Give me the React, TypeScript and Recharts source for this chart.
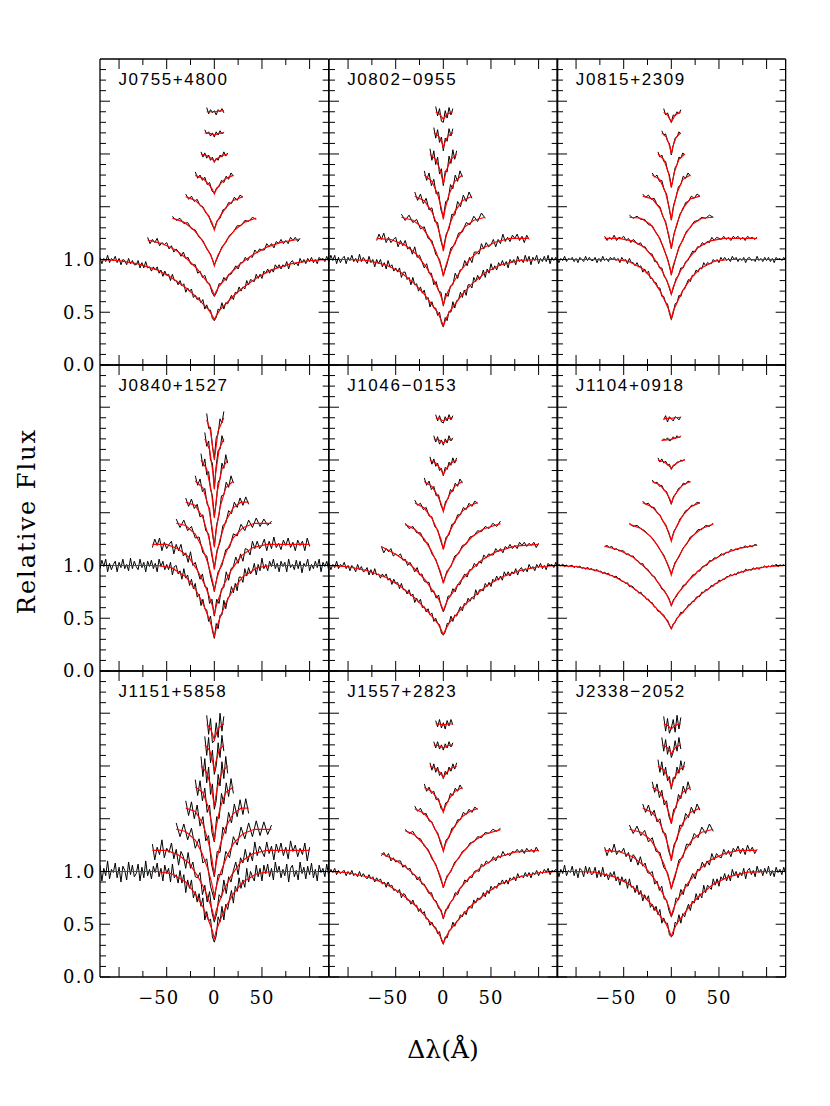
import React from "react";
import { LineChart, Line, XAxis, YAxis, ReferenceLine } from "recharts";

// Wavelength grids (Å from line centre). OX* = observed spectrum, FX* = model fit.
const OX1 = [-120,-118,-116,-114,-112,-110,-108,-106,-104,-102,-100,-98,-96,-94,-92,-90,-88,-86,-84,-82,-80,-78,-76,-74,-72,-70,-68,-66,-64,-62,-60,-58,-56,-54,-52,-50,-48,-46,-44,-42,-40,-38,-36,-34,-32,-30,-28,-26,-24,-22,-20,-18,-16,-14,-12,-10,-8,-6,-4,-2,0,2,4,6,8,10,12,14,16,18,20,22,24,26,28,30,32,34,36,38,40,42,44,46,48,50,52,54,56,58,60,62,64,66,68,70,72,74,76,78,80,82,84,86,88,90,92,94,96,98,100,102,104,106,108,110,112,114,116,118,120];
const OX2A = [-70,-67.5,-65,-62.5,-60,-57.5,-55,-52.5,-50,-47.5,-45,-42.5,-40,-37.5,-35,-32.5,-30,-27.5,-25,-22.5,-20,-17.5,-15,-12.5,-10,-7.5,-5,-2.5,0,2.5,5,7.5,10,12.5,15,17.5,20,22.5,25,27.5,30,32.5,35,37.5,40,42.5,45,47.5,50,52.5,55,57.5,60,62.5,65,67.5,70,72.5,75,77.5,80,82.5,85,87.5,90];
const OX2B = [-65,-62.5,-60,-57.5,-55,-52.5,-50,-47.5,-45,-42.5,-40,-37.5,-35,-32.5,-30,-27.5,-25,-22.5,-20,-17.5,-15,-12.5,-10,-7.5,-5,-2.5,0,2.5,5,7.5,10,12.5,15,17.5,20,22.5,25,27.5,30,32.5,35,37.5,40,42.5,45,47.5,50,52.5,55,57.5,60,62.5,65,67.5,70,72.5,75,77.5,80,82.5,85,87.5,90,92.5,95,97.5,100];
const OX3A = [-44,-40,-36,-32,-28,-24,-20,-16,-12,-8,-4,0,4,8,12,16,20,24,28,32,36,40,44];
const OX3B = [-40,-36,-32,-28,-24,-20,-16,-12,-8,-4,0,4,8,12,16,20,24,28,32,36,40,44,48,52,56,60];
const OX4A = [-30,-27,-24,-21,-18,-15,-12,-9,-6,-3,0,3,6,9,12,15,18,21,24,27,30];
const OX4B = [-30,-27,-24,-21,-18,-15,-12,-9,-6,-3,0,3,6,9,12,15,18,21,24,27,30,33,36];
const OX5 = [-20,-17.5,-15,-12.5,-10,-7.5,-5,-2.5,0,2.5,5,7.5,10,12.5,15,17.5,20];
const OX6 = [-14,-12,-10,-8,-6,-4,-2,0,2,4,6,8,10,12,14];
const OX7 = [-10,-8,-6,-4,-2,0,2,4,6,8,10];
const OX8 = [-8,-6,-4,-2,0,2,4,6,8,10];

const FX1 = [-120,-100,-80,-60,-45,-30,-20,-12,-6,-2,0,2,6,12,20,30,45,60,80,100,120];
const FX2A = [-70,-55,-40,-28,-18,-10,-5,-2,0,2,5,10,18,28,40,55,70,90];
const FX2B = [-65,-50,-38,-27,-18,-10,-5,-2,0,2,5,10,18,28,40,55,75,100];
const FX3A = [-44,-32,-22,-14,-8,-4,-1.5,0,1.5,4,8,14,22,32,44];
const FX3B = [-40,-30,-20,-13,-7,-3,-1,0,1,3,7,13,20,30,42,60];
const FX4A = [-30,-20,-12,-6,-2.5,0,2.5,6,12,20,30];
const FX4B = [-30,-20,-12,-6,-2.5,0,2.5,6,12,20,28,36];
const FX5 = [-20,-12,-6,-2,0,2,6,12,20];
const FX6 = [-14,-8,-3,0,3,8,14];
const FX7 = [-10,-5,-1.5,0,1.5,5,10];
const FX8 = [-8,-4,0,4,10];

const X_TICKS = [-100, -75, -50, -25, 0, 25, 50, 75, 100];
const X_LABELS = [-50, 0, 50];
const Y_TICKS = [0,0.1,0.2,0.3,0.4,0.5,0.6,0.7,0.8,0.9,1,1.1,1.2,1.3,1.4,1.5,1.6,1.7,1.8,1.9,2,2.1,2.2,2.3,2.4,2.5,2.6,2.7,2.8];
const Y_LABELS = [0, 0.5, 1];

// Relative flux, one row per Balmer line, each offset by +0.2
const J0755_OBS = [
  [1.02,.96,1.01,.98,1.04,.97,1.01,.99,1.03,.97,1.01,.95,1.00,.99,.95,1.01,.96,.99,.95,.95,.99,.92,.97,.92,.98,.92,.93,.89,.93,.90,.93,.87,.90,.84,.89,.85,.86,.80,.86,.80,.80,.76,.80,.75,.77,.69,.73,.70,.72,.64,.66,.62,.64,.59,.62,.53,.57,.52,.52,.44,
   .42,
   .45,.53,.52,.59,.53,.59,.58,.62,.66,.62,.69,.68,.74,.70,.74,.72,.80,.76,.81,.80,.79,.86,.82,.86,.82,.89,.87,.91,.87,.91,.88,.95,.92,.95,.91,.95,.93,.98,.91,.97,.99,.95,.97,.94,1.01,.97,1.00,.96,1.01,.98,1.02,.97,1.00,.96,1.02,1.00,1.01,.98,1.03,.98],
  [1.21,1.15,1.19,1.16,1.20,1.13,1.16,1.14,1.16,1.10,1.13,1.07,1.10,1.07,1.03,1.07,1.01,1.02,.96,.95,.95,.87,.89,.83,.85,.78,.77,.69,
   .65,
   .69,.77,.77,.83,.80,.86,.86,.90,.94,.91,.97,.97,1.02,.99,1.03,1.02,1.09,1.06,1.10,1.09,1.09,1.15,1.12,1.15,1.11,1.17,1.15,1.19,1.15,1.18,1.15,1.21,1.18,1.21,1.17,1.20],
  [1.41,1.37,1.39,1.34,1.35,1.29,1.28,1.21,1.18,1.10,1.05,.95,1.03,1.12,1.16,1.23,1.26,1.32,1.32,1.37,1.36,1.40,1.38],
  [1.62,1.57,1.60,1.55,1.57,1.51,1.50,1.44,1.42,1.34,1.29,1.37,1.39,1.47,1.48,1.54,1.53,1.59,1.56,1.61,1.59],
  [1.83,1.77,1.80,1.75,1.78,1.71,1.73,1.65,1.63,1.68,1.69,1.75,1.73,1.79,1.76,1.82,1.79],
  [2.02,1.97,2.01,1.96,1.99,1.94,1.97,1.92,1.96,1.94,1.99,1.97,2.02,1.98,2.01],
  [2.23,2.19,2.21,2.17,2.20,2.16,2.21,2.18,2.22,2.19,2.21],
  [2.44,2.38,2.42,2.39,2.41,2.37,2.42,2.40,2.43,2.39],
];
const J0755_FIT = [
  [1,.99,.958,.901,.829,.733,.654,.58,.524,.466,.43,.466,.524,.58,.654,.733,.829,.901,.958,.99,1],
  [1.185,1.151,1.087,1.0,.911,.817,.76,.706,.66,.699,.746,.80,.879,.964,1.043,1.117,1.162,1.194],
  [1.392,1.354,1.285,1.198,1.109,1.044,.986,.94,.986,1.044,1.109,1.198,1.285,1.354,1.392],
  [1.596,1.56,1.491,1.408,1.35,1.28,1.35,1.408,1.491,1.56,1.596],
  [1.797,1.769,1.715,1.662,1.62,1.662,1.715,1.769,1.797],
  [1.998,1.985,1.958,1.93,1.958,1.985,1.998],
  [2.2,2.195,2.186,2.18,2.186,2.195,2.2],
  [2.4,2.4,2.4,2.405,2.41],
];

const J0802_OBS = [
  [.98,1.04,.99,1.04,.96,1.02,.97,1.01,1.03,.96,1.02,.99,1.04,.98,1.01,.97,1.05,.98,1.02,.99,.96,1.03,.97,1.00,.93,1.00,.96,1.00,.93,.97,.91,.99,.93,.95,.89,.92,.88,.92,.83,.88,.88,.81,.83,.76,.83,.76,.77,.70,.74,.68,.71,.62,.64,.55,.60,.54,.54,.47,.50,.40,
   .36,
   .45,.42,.51,.50,.60,.54,.61,.62,.69,.64,.71,.66,.76,.76,.73,.83,.79,.85,.81,.84,.90,.83,.91,.87,.96,.90,.94,.90,.97,.94,.99,.94,.98,.92,1.00,.97,1.00,.95,1.03,.98,1.00,.97,1.04,.98,1.03,.95,1.02,.99,1.04,.96,1.01,.98,1.03,.98,1.04,.96,1.02,.99,1.02,.97],
  [1.18,1.24,1.19,1.25,1.16,1.21,1.16,1.19,1.21,1.12,1.18,1.13,1.18,1.10,1.12,1.05,1.12,1.02,1.04,.98,.92,.96,.87,.87,.76,.79,.70,.69,
   .56,
   .68,.65,.75,.76,.87,.82,.90,.91,.99,.94,1.02,.97,1.07,1.07,1.05,1.15,1.10,1.16,1.12,1.14,1.19,1.12,1.19,1.15,1.24,1.17,1.21,1.17,1.23,1.20,1.24,1.18,1.22,1.16,1.23,1.19],
  [1.43,1.37,1.42,1.35,1.38,1.29,1.31,1.20,1.18,1.05,1.00,.85,.96,1.11,1.14,1.25,1.26,1.35,1.33,1.41,1.36,1.44,1.39],
  [1.64,1.56,1.62,1.53,1.58,1.47,1.49,1.36,1.35,1.19,1.10,1.24,1.29,1.43,1.42,1.55,1.50,1.61,1.55,1.64,1.58],
  [1.84,1.75,1.82,1.70,1.76,1.62,1.64,1.47,1.40,1.55,1.56,1.71,1.67,1.80,1.74,1.84,1.78],
  [2.05,1.94,2.03,1.90,1.97,1.81,1.86,1.70,1.84,1.83,1.98,1.91,2.04,1.95,2.03],
  [2.25,2.15,2.23,2.11,2.16,2.03,2.15,2.12,2.24,2.17,2.24],
  [2.45,2.36,2.43,2.31,2.30,2.41,2.34,2.44,2.37,2.43],
];
const J0802_FIT = [
  [1,1,.992,.948,.882,.769,.672,.572,.499,.42,.37,.42,.499,.572,.672,.769,.882,.948,.992,1,1],
  [1.2,1.189,1.136,1.047,.929,.802,.712,.639,.57,.63,.699,.775,.891,1.005,1.101,1.166,1.2,1.2],
  [1.4,1.372,1.305,1.193,1.081,.98,.907,.84,.907,.98,1.081,1.193,1.305,1.372,1.4],
  [1.6,1.558,1.454,1.314,1.202,1.08,1.202,1.314,1.454,1.558,1.6],
  [1.8,1.741,1.619,1.485,1.38,1.485,1.619,1.741,1.8],
  [1.996,1.949,1.84,1.72,1.84,1.949,1.996],
  [2.2,2.171,2.108,2.06,2.108,2.171,2.2],
  [2.397,2.378,2.33,2.378,2.4],
];

const J0815_OBS = [
  [1.02,.97,1.01,.99,1.03,.98,1.01,1.00,1.02,.98,1.01,.97,1.02,1.00,.98,1.03,.99,1.02,.99,.99,1.02,.97,1.01,.98,1.03,.99,1.01,.98,1.02,1.00,1.02,.99,1.01,.97,1.02,.99,1.00,.96,1.01,.97,.97,.94,.97,.93,.94,.88,.91,.87,.89,.82,.82,.78,.78,.73,.73,.65,.65,.59,.58,.49,
   .43,
   .49,.58,.59,.66,.65,.71,.72,.77,.81,.79,.85,.85,.90,.88,.92,.91,.97,.94,.97,.96,.96,1.00,.98,1.00,.97,1.02,.99,1.02,.99,1.01,.98,1.03,1.00,1.02,.98,1.01,.99,1.02,.97,1.01,1.02,.99,1.00,.98,1.03,.99,1.01,.98,1.02,.99,1.02,.98,1.01,.97,1.02,1.00,1.01,.99,1.02,.99],
  [1.22,1.18,1.21,1.19,1.23,1.18,1.21,1.20,1.22,1.18,1.20,1.16,1.19,1.17,1.14,1.16,1.12,1.12,1.08,1.06,1.05,.98,.98,.92,.92,.84,.81,.74,
   .67,
   .74,.82,.85,.92,.92,.98,.99,1.04,1.08,1.07,1.12,1.12,1.16,1.14,1.17,1.16,1.21,1.18,1.21,1.20,1.19,1.22,1.19,1.21,1.18,1.22,1.20,1.22,1.19,1.21,1.18,1.22,1.20,1.21,1.19,1.21],
  [1.42,1.39,1.41,1.38,1.38,1.33,1.32,1.25,1.20,1.10,1.01,.86,.99,1.12,1.18,1.27,1.30,1.36,1.37,1.40,1.39,1.42,1.40],
  [1.62,1.59,1.61,1.57,1.58,1.52,1.50,1.41,1.36,1.23,1.11,1.25,1.33,1.43,1.47,1.54,1.55,1.60,1.58,1.62,1.60],
  [1.82,1.78,1.80,1.74,1.75,1.66,1.62,1.49,1.38,1.52,1.59,1.69,1.71,1.79,1.77,1.82,1.79],
  [2.02,1.97,1.99,1.93,1.93,1.84,1.80,1.69,1.77,1.87,1.90,1.97,1.96,2.01,1.99],
  [2.22,2.18,2.19,2.12,2.10,1.99,2.08,2.15,2.16,2.21,2.19],
  [2.43,2.37,2.39,2.34,2.30,2.37,2.36,2.40,2.38,2.42],
];
const J0815_FIT = [
  [1,1,1,1,.983,.913,.816,.705,.593,.509,.44,.509,.593,.705,.816,.913,.983,1,1,1,1],
  [1.2,1.2,1.174,1.113,1.009,.898,.803,.739,.67,.739,.803,.898,1.009,1.113,1.174,1.2,1.2,1.2],
  [1.4,1.391,1.334,1.23,1.109,.999,.927,.85,.927,.999,1.109,1.23,1.334,1.391,1.4],
  [1.6,1.575,1.485,1.345,1.225,1.1,1.225,1.345,1.485,1.575,1.6],
  [1.8,1.757,1.632,1.484,1.37,1.484,1.632,1.757,1.8],
  [2.0,1.95,1.824,1.68,1.824,1.95,2.0],
  [2.2,2.158,2.068,2.0,2.068,2.158,2.2],
  [2.395,2.369,2.3,2.369,2.4],
];

const J0840_OBS = [
  [.97,1.05,.99,1.06,.94,1.02,.96,1.01,1.04,.94,1.03,.98,1.06,.97,1.01,.95,1.07,.97,1.04,.99,.96,1.06,.98,1.03,.94,1.04,.99,1.05,.97,1.02,.94,1.06,.99,1.04,.96,1.01,.96,1.03,.91,.99,1.00,.92,.95,.87,.97,.88,.91,.81,.87,.78,.83,.70,.73,.62,.68,.59,.58,.47,.52,.38,
   .31,
   .45,.40,.53,.53,.67,.59,.69,.71,.80,.74,.83,.76,.89,.89,.84,.97,.90,.98,.92,.95,1.02,.91,1.01,.95,1.07,.97,1.01,.95,1.04,.99,1.06,.97,1.02,.94,1.04,.99,1.03,.94,1.06,.98,1.01,.96,1.05,.97,1.04,.93,1.02,.99,1.06,.95,1.01,.97,1.04,.98,1.06,.94,1.03,.99,1.04,.96],
  [1.17,1.25,1.19,1.26,1.14,1.22,1.16,1.20,1.23,1.11,1.20,1.14,1.20,1.09,1.12,1.03,1.13,1.00,1.03,.95,.87,.92,.80,.79,.64,.68,
   .52,
   .68,.64,.78,.79,.94,.86,.97,.99,1.08,1.02,1.11,1.04,1.16,1.15,1.10,1.23,1.16,1.23,1.16,1.19,1.25,1.14,1.23,1.16,1.27,1.17,1.21,1.15,1.24,1.19,1.26,1.17,1.22,1.14,1.24,1.19,1.23,1.14,1.26,1.18],
  [1.44,1.36,1.43,1.33,1.37,1.26,1.27,1.12,1.09,.90,.76,.94,1.00,1.15,1.17,1.30,1.28,1.39,1.33,1.43,1.36,1.45,1.37,1.44,1.38,1.42],
  [1.64,1.56,1.63,1.54,1.58,1.46,1.48,1.33,1.30,1.11,.98,1.15,1.22,1.38,1.40,1.52,1.49,1.60,1.55,1.64,1.57,1.65,1.58],
  [1.85,1.76,1.82,1.70,1.73,1.58,1.54,1.33,1.19,1.39,1.48,1.66,1.67,1.79,1.74,1.85,1.78],
  [2.06,1.94,2.01,1.86,1.89,1.72,1.66,1.47,1.60,1.79,1.82,1.97,1.92,2.05,1.97],
  [2.26,2.13,2.18,2.00,1.97,1.74,1.95,2.09,2.10,2.23,2.17],
  [2.44,2.30,2.31,2.13,2.02,2.21,2.25,2.39,2.35,2.46],
];
const J0840_FIT = [
  [1,1,1,1,.979,.894,.777,.642,.506,.404,.32,.404,.506,.642,.777,.894,.979,1,1,1,1],
  [1.2,1.2,1.158,1.081,.959,.818,.698,.617,.53,.617,.698,.818,.959,1.089,1.167,1.2,1.2,1.2],
  [1.4,1.379,1.298,1.176,1.03,.90,.815,.75,.809,.887,1.0,1.14,1.264,1.358,1.4,1.4],
  [1.6,1.568,1.453,1.274,1.12,.96,1.11,1.248,1.421,1.549,1.6,1.6],
  [1.8,1.737,1.554,1.337,1.17,1.337,1.554,1.737,1.8],
  [2.0,1.914,1.698,1.45,1.698,1.914,2.0],
  [2.2,2.099,1.883,1.72,1.883,2.099,2.2],
  [2.38,2.276,2.0,2.276,2.4],
];

const J1046_OBS = [
  [1.02,.96,1.01,.98,1.04,.97,1.01,.99,1.03,.97,1.00,.95,1.00,.98,.94,1.01,.96,.99,.94,.95,.98,.91,.96,.91,.97,.91,.92,.88,.92,.89,.92,.86,.88,.82,.87,.83,.84,.78,.83,.77,.77,.73,.77,.71,.73,.65,.69,.65,.68,.60,.61,.56,.59,.53,.55,.47,.50,.45,.44,.36,
   .34,
   .37,.45,.45,.52,.47,.53,.52,.57,.61,.57,.64,.63,.69,.66,.70,.68,.77,.72,.77,.77,.76,.83,.80,.84,.80,.87,.85,.90,.86,.90,.86,.94,.90,.94,.90,.94,.92,.97,.91,.96,.98,.94,.97,.94,1.01,.97,.99,.95,1.01,.98,1.02,.97,1.00,.96,1.02,1.00,1.01,.98,1.03,.98],
  [1.18,1.12,1.16,1.13,1.16,1.09,1.11,1.09,1.11,1.05,1.06,1.00,1.03,.99,.94,.98,.91,.92,.85,.84,.84,.75,.76,.69,.72,.62,
   .56,
   .62,.71,.71,.78,.75,.82,.82,.88,.92,.89,.96,.96,1.02,.99,1.04,1.02,1.10,1.07,1.11,1.10,1.10,1.16,1.13,1.16,1.12,1.18,1.16,1.20,1.16,1.19,1.16,1.22,1.19,1.22,1.18,1.21,1.19,1.22,1.17,1.21],
  [1.40,1.35,1.37,1.31,1.31,1.23,1.21,1.11,1.06,.95,.84,.95,.99,1.09,1.11,1.19,1.20,1.27,1.28,1.33,1.32,1.37,1.35,1.40,1.37,1.42],
  [1.62,1.57,1.59,1.53,1.55,1.47,1.46,1.37,1.34,1.24,1.16,1.27,1.29,1.39,1.40,1.48,1.48,1.55,1.53,1.59,1.56,1.61,1.59],
  [1.83,1.76,1.80,1.72,1.75,1.66,1.67,1.57,1.52,1.61,1.63,1.72,1.70,1.78,1.75,1.82,1.78],
  [2.03,1.96,2.01,1.94,1.97,1.90,1.92,1.85,1.93,1.91,1.98,1.95,2.02,1.97,2.02],
  [2.23,2.17,2.22,2.15,2.19,2.14,2.20,2.16,2.23,2.18,2.21],
  [2.43,2.37,2.42,2.36,2.35,2.41,2.37,2.43,2.38,2.42],
];
const J1046_FIT = [
  [1,.988,.952,.886,.804,.693,.602,.518,.453,.386,.345,.386,.453,.518,.602,.693,.804,.886,.952,.988,1],
  [1.18,1.107,1.034,.943,.852,.745,.682,.62,.57,.62,.682,.745,.852,.951,1.049,1.129,1.184,1.2],
  [1.387,1.343,1.249,1.146,1.03,.941,.873,.83,.861,.916,.984,1.083,1.172,1.272,1.346,1.397],
  [1.595,1.544,1.447,1.33,1.249,1.15,1.236,1.309,1.416,1.515,1.569,1.596],
  [1.795,1.75,1.664,1.578,1.51,1.578,1.664,1.75,1.795],
  [1.996,1.971,1.916,1.86,1.916,1.971,1.996],
  [2.199,2.19,2.172,2.16,2.172,2.19,2.199],
  [2.398,2.391,2.37,2.391,2.4],
];

const J1104_OBS = [
  [.993,1.011,.997,1.014,.988,1.003,.989,.998,1.002,.979,.995,.982,.995,.973,.98,.964,.985,.961,.971,.959,.947,.963,.943,.947,.923,.938,.92,.927,.902,.908,.884,.901,.877,.876,.849,.85,.83,.836,.799,.806,.797,.768,.764,.736,.748,.716,.71,.679,.681,.65,.648,.608,.601,.565,.567,.542,.531,.492,.483,.432,
   .398,
   .447,.459,.504,.52,.558,.548,.581,.597,.629,.627,.66,.658,.697,.706,.707,.748,.744,.771,.768,.785,.812,.801,.831,.827,.862,.852,.871,.868,.895,.895,.915,.902,.921,.91,.938,.933,.947,.935,.965,.952,.962,.954,.978,.964,.982,.962,.985,.98,.998,.979,.995,.986,1.005,.994,1.013,.988,1.006,.999,1.008,.991],
  [1.177,1.19,1.17,1.182,1.15,1.16,1.138,1.14,1.137,1.104,1.111,1.088,1.09,1.053,1.045,1.013,1.018,.975,.967,.934,.901,.893,.848,.826,.775,.766,.724,.689,
   .62,
   .681,.70,.747,.765,.813,.815,.855,.877,.911,.911,.947,.947,.988,.999,1.003,1.046,1.044,1.072,1.07,1.087,1.112,1.098,1.127,1.121,1.153,1.14,1.156,1.149,1.172,1.168,1.186,1.172,1.189,1.175,1.20,1.191],
  [1.40,1.37,1.38,1.35,1.33,1.29,1.26,1.21,1.15,1.10,1.01,.92,1.03,1.08,1.16,1.20,1.27,1.29,1.34,1.34,1.38,1.37,1.40],
  [1.61,1.58,1.59,1.55,1.55,1.50,1.48,1.42,1.39,1.31,1.24,1.33,1.37,1.44,1.47,1.52,1.53,1.57,1.57,1.60,1.59],
  [1.81,1.78,1.79,1.75,1.76,1.71,1.70,1.64,1.58,1.66,1.68,1.73,1.74,1.78,1.77,1.80,1.79],
  [2.02,1.98,2.01,1.97,1.99,1.95,1.96,1.91,1.95,1.95,1.98,1.98,2.00,1.99,2.01],
  [2.18,2.20,2.19,2.21,2.18,2.19,2.22,2.20,2.23,2.21,2.23],
  [2.38,2.42,2.36,2.41,2.39,2.37,2.41,2.40,2.38,2.41],
];
const J1104_FIT = [
  [1,.989,.956,.896,.82,.719,.636,.558,.499,.438,.40,.438,.499,.558,.636,.719,.82,.896,.956,.989,1],
  [1.184,1.147,1.078,.985,.89,.788,.727,.669,.62,.662,.713,.771,.855,.947,1.032,1.111,1.159,1.194],
  [1.392,1.351,1.278,1.184,1.09,1.02,.959,.91,.959,1.02,1.09,1.184,1.278,1.351,1.392],
  [1.596,1.554,1.474,1.378,1.311,1.23,1.311,1.378,1.474,1.554,1.596],
  [1.796,1.764,1.701,1.639,1.59,1.639,1.701,1.764,1.796],
  [1.998,1.983,1.952,1.92,1.952,1.983,1.998],
  [2.185,2.19,2.195,2.195,2.2,2.21,2.22],
  [2.39,2.395,2.395,2.4,2.405],
];

const J1151_OBS = [
  [1.06,.91,1.03,.96,1.10,.93,1.02,.99,1.08,.94,1.04,.90,1.05,1.01,.92,1.09,.97,1.06,.95,.98,1.07,.91,1.04,.94,1.10,.96,1.02,.93,1.05,.99,1.08,.95,1.03,.91,1.06,.98,1.03,.90,1.07,.94,.97,.89,1.01,.89,.97,.80,.92,.84,.92,.75,.81,.71,.79,.67,.75,.54,.62,.53,.55,.38,
   .33,
   .39,.57,.52,.67,.54,.69,.64,.74,.82,.70,.86,.81,.94,.84,.92,.85,1.03,.90,1.00,.95,.91,1.06,.95,1.03,.91,1.06,.98,1.07,.95,1.03,.92,1.09,.99,1.05,.94,1.02,.96,1.07,.90,1.03,1.06,.95,1.01,.92,1.09,.98,1.04,.93,1.05,.97,1.08,.94,1.02,.91,1.06,.99,1.03,.95,1.07,.96],
  [1.26,1.11,1.23,1.16,1.30,1.13,1.22,1.18,1.27,1.12,1.21,1.06,1.19,1.14,1.03,1.18,1.03,1.09,.95,.94,.99,.78,.87,.71,.81,.61,
   .52,
   .60,.78,.75,.92,.79,.95,.90,1.01,1.09,.97,1.13,1.08,1.21,1.09,1.18,1.10,1.28,1.15,1.24,1.19,1.14,1.28,1.17,1.24,1.11,1.26,1.18,1.27,1.15,1.23,1.12,1.29,1.19,1.25,1.14,1.22,1.16,1.27,1.10,1.23],
  [1.46,1.33,1.45,1.30,1.41,1.22,1.31,1.08,1.12,.86,.73,.97,.97,1.19,1.13,1.33,1.25,1.42,1.31,1.46,1.33,1.48,1.34,1.47,1.35,1.44],
  [1.67,1.53,1.66,1.50,1.63,1.43,1.52,1.29,1.34,1.07,.95,1.19,1.18,1.42,1.36,1.56,1.46,1.64,1.52,1.68,1.54,1.69,1.55],
  [1.87,1.72,1.86,1.67,1.79,1.56,1.63,1.37,1.28,1.52,1.50,1.74,1.64,1.84,1.71,1.88,1.74],
  [2.09,1.90,2.07,1.84,1.99,1.73,1.83,1.59,1.67,1.92,1.81,2.04,1.88,2.09,1.93],
  [2.28,2.10,2.27,2.03,2.15,1.92,2.00,2.22,2.08,2.29,2.14],
  [2.48,2.30,2.45,2.22,2.24,2.41,2.27,2.50,2.33,2.47],
];
const J1151_FIT = [
  [1,1,1,1,.98,.90,.79,.663,.535,.439,.36,.439,.535,.663,.79,.90,.98,1,1,1,1],
  [1.2,1.2,1.159,1.083,.964,.827,.709,.63,.545,.63,.709,.827,.964,1.092,1.167,1.2,1.2,1.2],
  [1.4,1.379,1.298,1.176,1.03,.90,.815,.75,.809,.887,1.0,1.14,1.264,1.358,1.4,1.4],
  [1.6,1.568,1.453,1.274,1.12,.96,1.11,1.248,1.421,1.549,1.6,1.6],
  [1.8,1.749,1.601,1.425,1.29,1.425,1.601,1.749,1.8],
  [2.0,1.94,1.791,1.62,1.791,1.94,2.0],
  [2.2,2.148,2.035,1.95,2.035,2.148,2.2],
  [2.393,2.354,2.25,2.354,2.4],
];

const J1557_OBS = [
  [.98,1.02,.99,1.03,.97,1.01,.98,1.00,1.01,.96,1.00,.97,1.01,.96,.98,.95,1.00,.95,.98,.95,.93,.97,.93,.95,.90,.94,.91,.93,.88,.90,.85,.90,.86,.87,.82,.83,.80,.83,.75,.79,.78,.73,.73,.69,.73,.68,.68,.62,.65,.60,.62,.55,.55,.49,.52,.48,.47,.41,.43,.35,
   .31,
   .38,.37,.44,.45,.52,.48,.53,.54,.59,.57,.62,.59,.66,.67,.65,.73,.70,.75,.73,.75,.80,.76,.82,.79,.86,.83,.86,.84,.89,.88,.92,.88,.92,.88,.94,.92,.95,.91,.98,.94,.96,.94,.99,.95,.99,.94,.99,.97,1.01,.96,1.00,.98,1.02,.99,1.03,.97,1.01,1.00,1.02,.98],
  [1.15,1.18,1.14,1.17,1.10,1.13,1.09,1.10,1.10,1.04,1.06,1.02,1.03,.97,.97,.92,.95,.88,.88,.83,.79,.80,.73,.72,.65,.64,
   .55,
   .64,.65,.71,.73,.80,.78,.84,.86,.92,.90,.95,.94,1.00,1.01,1.00,1.07,1.05,1.10,1.08,1.10,1.14,1.10,1.15,1.13,1.19,1.15,1.17,1.15,1.19,1.18,1.21,1.18,1.21,1.17,1.22,1.19,1.21,1.18,1.23,1.19],
  [1.40,1.36,1.38,1.32,1.31,1.24,1.21,1.12,1.07,.96,.85,.96,1.00,1.09,1.12,1.19,1.21,1.27,1.28,1.33,1.32,1.37,1.36,1.40,1.38,1.41],
  [1.62,1.57,1.60,1.54,1.55,1.48,1.47,1.40,1.37,1.27,1.20,1.30,1.32,1.41,1.42,1.49,1.49,1.56,1.54,1.59,1.56,1.61,1.59],
  [1.83,1.76,1.80,1.74,1.76,1.68,1.69,1.60,1.57,1.65,1.66,1.74,1.72,1.79,1.76,1.82,1.78],
  [2.03,1.96,2.02,1.94,1.99,1.91,1.94,1.88,1.95,1.92,1.99,1.95,2.02,1.97,2.03],
  [2.23,2.17,2.23,2.16,2.20,2.15,2.21,2.17,2.23,2.18,2.22],
  [2.43,2.37,2.44,2.36,2.41,2.35,2.43,2.38,2.44,2.39],
];
const J1557_FIT = [
  [1,.988,.95,.882,.796,.682,.587,.50,.432,.363,.32,.363,.432,.50,.587,.682,.796,.882,.95,.988,1],
  [1.17,1.106,1.032,.939,.846,.737,.673,.611,.56,.611,.673,.737,.846,.947,1.046,1.128,1.184,1.2],
  [1.387,1.345,1.253,1.153,1.039,.953,.887,.845,.876,.928,.995,1.091,1.178,1.275,1.348,1.397],
  [1.595,1.549,1.461,1.354,1.28,1.19,1.268,1.335,1.432,1.522,1.571,1.596],
  [1.796,1.758,1.687,1.616,1.56,1.616,1.687,1.758,1.796],
  [1.997,1.977,1.934,1.89,1.934,1.977,1.997],
  [2.2,2.192,2.179,2.17,2.179,2.192,2.2],
  [2.4,2.397,2.39,2.397,2.4],
];

const J2338_OBS = [
  [1.04,.95,1.02,.98,1.06,.96,1.01,.99,1.05,.96,1.02,.94,1.03,1.01,.95,1.05,.98,1.04,.97,.98,1.04,.94,1.01,.95,1.04,.95,.98,.92,.99,.95,1.00,.91,.95,.87,.95,.90,.93,.84,.93,.85,.86,.80,.87,.78,.82,.72,.78,.73,.77,.66,.69,.63,.67,.59,.64,.51,.56,.51,.51,.40,
   .38,
   .40,.52,.50,.59,.51,.60,.57,.64,.69,.63,.72,.70,.79,.73,.79,.75,.87,.80,.87,.85,.83,.93,.87,.93,.86,.95,.92,.98,.91,.97,.91,1.02,.96,1.00,.94,.99,.96,1.03,.93,1.01,1.03,.97,1.01,.95,1.05,.99,1.02,.96,1.03,.98,1.05,.96,1.01,.95,1.04,.99,1.02,.97,1.04,.98],
  [1.23,1.15,1.22,1.18,1.26,1.16,1.20,1.18,1.22,1.14,1.18,1.09,1.16,1.13,1.06,1.14,1.05,1.08,.99,.98,1.00,.88,.91,.82,.86,.74,.73,.63,
   .57,
   .63,.75,.73,.83,.78,.88,.86,.93,.98,.93,1.02,1.01,1.09,1.04,1.10,1.06,1.17,1.11,1.17,1.14,1.13,1.21,1.16,1.20,1.14,1.22,1.19,1.24,1.17,1.22,1.16,1.25,1.19,1.23,1.17,1.21],
  [1.44,1.36,1.43,1.34,1.39,1.28,1.32,1.19,1.18,1.04,.99,.84,.95,1.11,1.13,1.26,1.25,1.36,1.32,1.42,1.36,1.45,1.38],
  [1.64,1.56,1.63,1.53,1.58,1.47,1.50,1.37,1.36,1.20,1.12,1.26,1.30,1.44,1.43,1.55,1.51,1.61,1.55,1.64,1.58],
  [1.85,1.75,1.83,1.70,1.77,1.63,1.67,1.52,1.46,1.59,1.60,1.73,1.69,1.81,1.74,1.85,1.77],
  [2.06,1.94,2.04,1.91,1.99,1.86,1.90,1.78,1.89,1.88,1.99,1.93,2.05,1.96,2.04],
  [2.27,2.14,2.25,2.11,2.19,2.08,2.13,2.24,2.14,2.27,2.16],
  [2.47,2.33,2.45,2.31,2.36,2.44,2.32,2.48,2.35,2.46],
];
const J2338_FIT = [
  [1,1,.993,.949,.885,.775,.68,.582,.511,.434,.385,.434,.511,.582,.68,.775,.885,.949,.993,1,1],
  [1.2,1.189,1.137,1.049,.933,.808,.72,.648,.58,.639,.707,.782,.896,1.008,1.103,1.167,1.2,1.2],
  [1.4,1.372,1.303,1.189,1.075,.973,.898,.83,.898,.973,1.075,1.189,1.303,1.372,1.4],
  [1.6,1.56,1.46,1.325,1.218,1.1,1.218,1.325,1.46,1.56,1.6],
  [1.8,1.751,1.65,1.538,1.45,1.538,1.65,1.751,1.8],
  [1.997,1.963,1.886,1.8,1.886,1.963,1.997],
  [2.2,2.181,2.141,2.11,2.141,2.181,2.2],
  [2.398,2.385,2.35,2.385,2.4],
];

const GRIDS: Record<string, { obs: number[][]; fit: number[][] }> = {
  A: { obs: [OX1, OX2A, OX3A, OX4A, OX5, OX6, OX7, OX8], fit: [FX1, FX2A, FX3A, FX4A, FX5, FX6, FX7, FX8] },
  B: { obs: [OX1, OX2B, OX3B, OX4B, OX5, OX6, OX7, OX8], fit: [FX1, FX2B, FX3B, FX4B, FX5, FX6, FX7, FX8] },
};

const PANELS = [
  { name: "J0755+4800", grid: "A", obs: J0755_OBS, fit: J0755_FIT },
  { name: "J0802\u22120955", grid: "A", obs: J0802_OBS, fit: J0802_FIT },
  { name: "J0815+2309", grid: "A", obs: J0815_OBS, fit: J0815_FIT },
  { name: "J0840+1527", grid: "B", obs: J0840_OBS, fit: J0840_FIT },
  { name: "J1046\u22120153", grid: "B", obs: J1046_OBS, fit: J1046_FIT },
  { name: "J1104+0918", grid: "A", obs: J1104_OBS, fit: J1104_FIT },
  { name: "J1151+5858", grid: "B", obs: J1151_OBS, fit: J1151_FIT },
  { name: "J1557+2823", grid: "B", obs: J1557_OBS, fit: J1557_FIT },
  { name: "J2338\u22122052", grid: "A", obs: J2338_OBS, fit: J2338_FIT },
];

// layout (page px)
const PLOT_L = 100;
const PLOT_T = 59;
const PW = 228.67;
const PH = 306;
const ML = 50, MR = 12, MT = 12, MB = 42;
const SERIF = "'DejaVu Serif', serif";

const zip = (xs: number[], ys: number[]) => {
  if (xs.length !== ys.length) console.warn("length mismatch", xs.length, ys.length);
  return xs.map((x, i) => ({ x, y: ys[i] }));
};

function XTick({ x, y, value, showLabel }: any) {
  const len = value % 50 === 0 ? 10 : 6;
  const neg = value < 0;
  return (
    <g>
      <line x1={x} x2={x} y1={y} y2={y - len} stroke="#000" />
      <line x1={x} x2={x} y1={y - PH} y2={y - PH + len} stroke="#000" />
      {showLabel && X_LABELS.includes(value) && (
        // digits centred on the tick, minus sign hangs to the left
        <text x={neg ? x + 12.5 : x} y={y + 27} textAnchor={neg ? "end" : "middle"} fontFamily={SERIF}
          fontSize={18} letterSpacing={1} fill="#000">
          {neg ? `\u2212${-value}` : `${value}`}
        </text>
      )}
    </g>
  );
}

function YTick({ x, y, value, showLabel }: any) {
  const major = Math.abs(value * 2 - Math.round(value * 2)) < 1e-6;
  const len = major ? 10 : 6;
  const lab = showLabel && Y_LABELS.some((v) => Math.abs(v - value) < 1e-6);
  return (
    <g>
      <line x1={x} x2={x + len} y1={y} y2={y} stroke="#000" />
      <line x1={x + PW} x2={x + PW - len} y1={y} y2={y} stroke="#000" />
      {lab && (
        <text x={x - 4} y={y + 6.5} textAnchor="end" fontFamily={SERIF} fontSize={18} letterSpacing={1.5} fill="#000">
          {value.toFixed(1)}
        </text>
      )}
    </g>
  );
}

function Panel({ panel, row, col }: any) {
  const g = GRIDS[panel.grid];
  const obs = panel.obs.map((ys: number[], i: number) => zip(g.obs[i], ys));
  const fit = panel.fit.map((ys: number[], i: number) => zip(g.fit[i], ys));
  const left = PLOT_L + col * PW;
  const top = PLOT_T + row * PH;
  return (
    <>
      <div style={{ position: "absolute", left: left - ML, top: top - MT }}>
        {/* axes get 1px so recharts still draws them; margins compensate */}
        <LineChart width={PW + ML + MR} height={PH + MT + MB} margin={{ top: MT, right: MR, bottom: MB - 1, left: ML - 1 }}>
          <XAxis
            type="number"
            dataKey="x"
            domain={[-120, 120]}
            ticks={X_TICKS}
            interval={0}
            allowDataOverflow
            axisLine={false}
            tickLine={false}
            tickSize={0}
            tickMargin={0}
            height={1}
            tick={(t: any) => <XTick x={t.x} y={t.y} value={t.payload.value} showLabel={row === 2} />}
          />
          <YAxis
            type="number"
            domain={[0, 2.9]}
            ticks={Y_TICKS}
            interval={0}
            allowDataOverflow
            axisLine={false}
            tickLine={false}
            tickSize={0}
            tickMargin={0}
            width={1}
            tick={(t: any) => <YTick x={t.x} y={t.y} value={t.payload.value} showLabel={col === 0} />}
          />
          <ReferenceLine x={-120} stroke="#000" strokeWidth={1.3} />
          <ReferenceLine x={120} stroke="#000" strokeWidth={1.3} />
          <ReferenceLine y={0} stroke="#000" strokeWidth={1.3} />
          <ReferenceLine y={2.9} stroke="#000" strokeWidth={1.3} />
          {obs.map((d: any, i: number) => (
            <Line key={`o${i}`} data={d} dataKey="y" type="linear" stroke="#000" strokeWidth={1}
              dot={false} activeDot={false} isAnimationActive={false} />
          ))}
          {fit.map((d: any, i: number) => (
            <Line key={`f${i}`} data={d} dataKey="y" type="linear" stroke="#ff0000" strokeWidth={1.2}
              dot={false} activeDot={false} isAnimationActive={false} />
          ))}
        </LineChart>
      </div>
      <div
        style={{
          position: "absolute",
          left: left + 18.5,
          top: top + 12,
          fontFamily: "'Liberation Sans', Arial, sans-serif",
          fontSize: 17,
          letterSpacing: 1.6,
          lineHeight: "17px",
          color: "#000",
          whiteSpace: "nowrap",
        }}
      >
        {panel.name}
      </div>
    </>
  );
}

export default function App() {
  return (
    <div style={{ position: "absolute", left: 0, top: 0, width: 830, height: 1106, background: "#fff" }}>
      {PANELS.map((p, i) => (
        <Panel key={p.name} panel={p} row={Math.floor(i / 3)} col={i % 3} />
      ))}
      <div
        style={{
          position: "absolute",
          left: 27 - 150,
          top: 521 - 15,
          width: 300,
          height: 30,
          lineHeight: "30px",
          textAlign: "center",
          transform: "rotate(-90deg)",
          fontFamily: SERIF,
          fontSize: 24,
          letterSpacing: 2,
          color: "#000",
        }}
      >
        Relative Flux
      </div>
      <div
        style={{
          position: "absolute",
          left: 443 - 100,
          top: 1034,
          width: 200,
          lineHeight: "32px",
          textAlign: "center",
          fontFamily: SERIF,
          fontSize: 25,
          color: "#000",
        }}
      >
        {"\u0394\u03BB(\u00C5)"}
      </div>
    </div>
  );
}
